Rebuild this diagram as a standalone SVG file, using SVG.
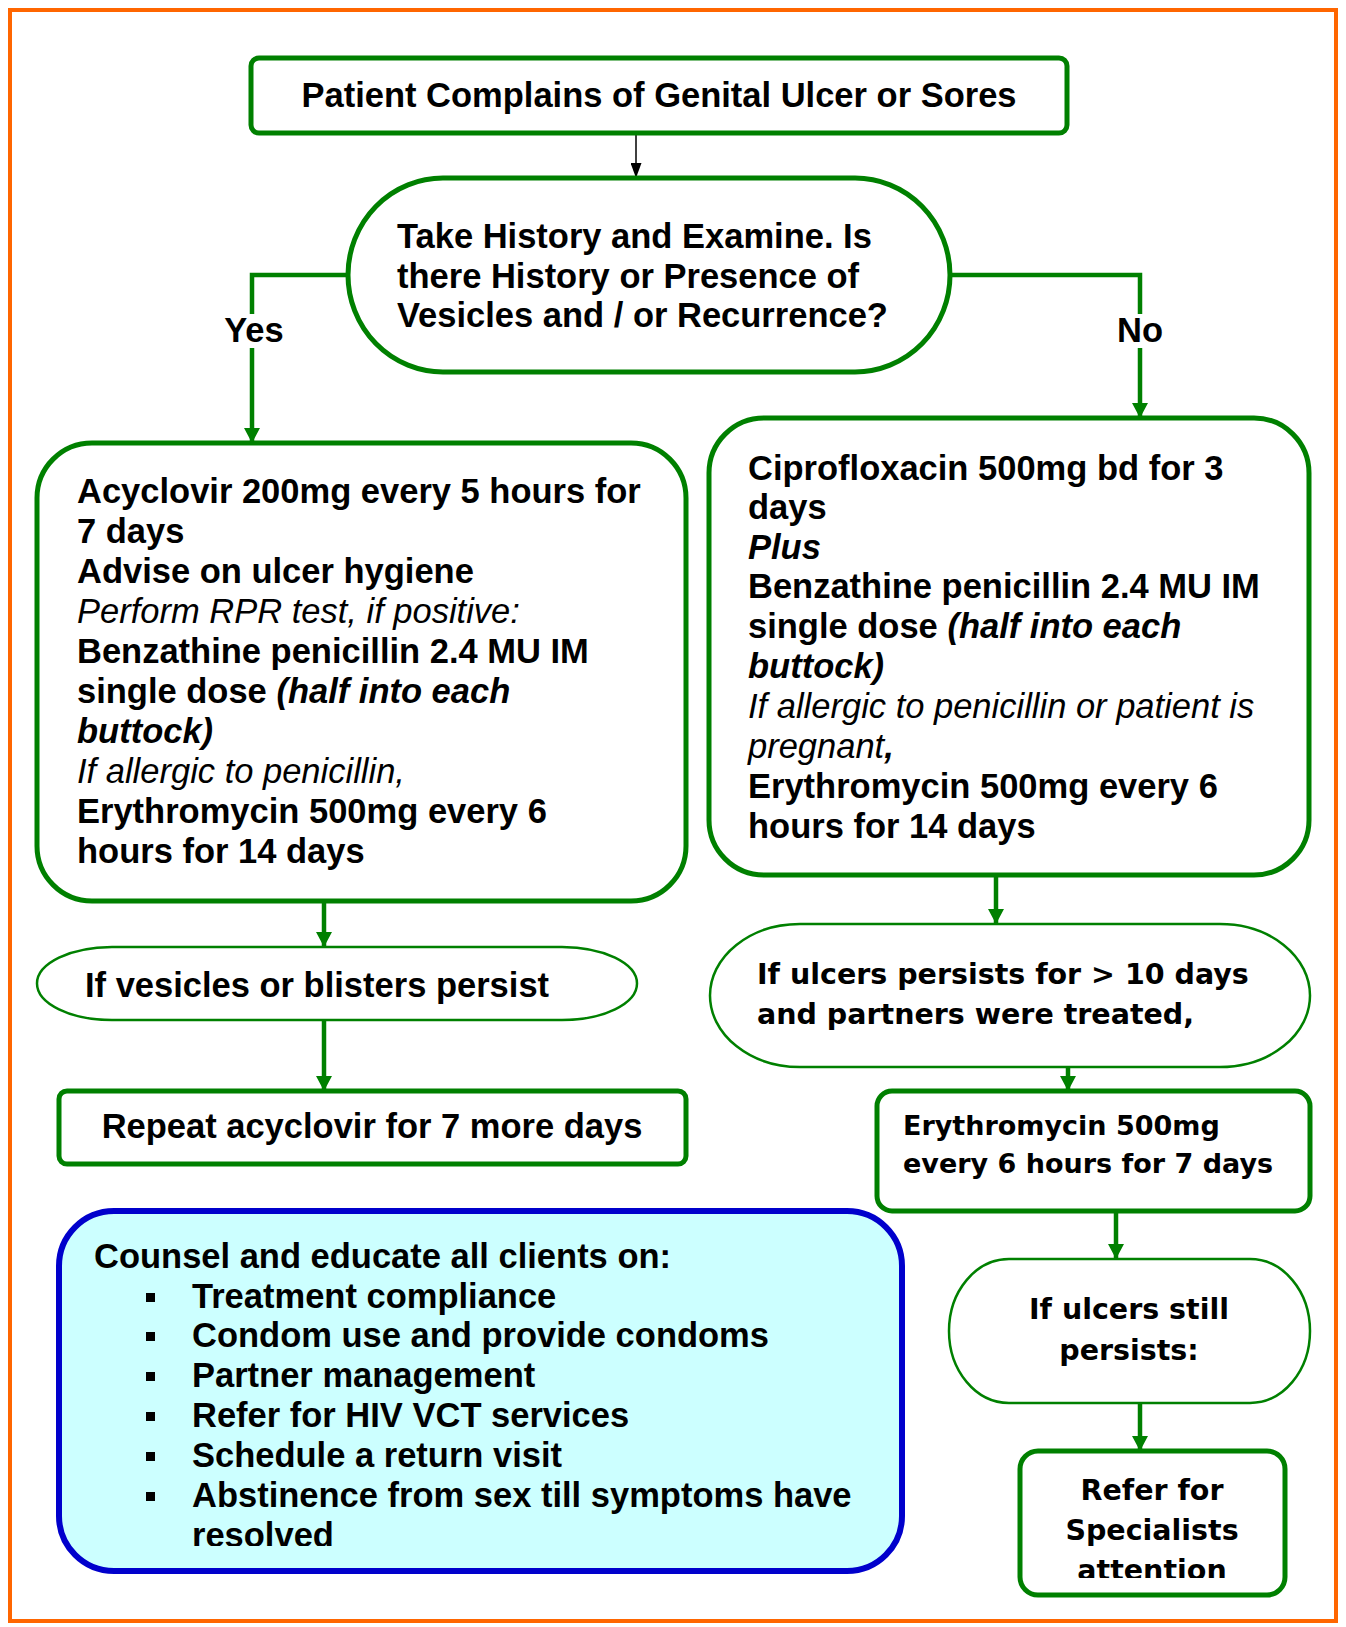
<svg xmlns="http://www.w3.org/2000/svg" width="1346" height="1627" viewBox="0 0 1346 1627">
<defs>
<style>
.n{fill:#fff;stroke:#008000;stroke-width:5}
.thin{stroke-width:2.5}
.t{font-family:"Liberation Sans",Arial,sans-serif;font-size:34.5px;font-weight:bold;fill:#000}
.i{font-style:italic}
.r{font-weight:normal}
.v{font-family:"DejaVu Sans",Verdana,sans-serif;font-weight:bold;font-size:28.5px;fill:#000}
.m{text-anchor:middle}
.c{fill:none;stroke:#008000;stroke-width:4.5}
</style>
<marker id="ga" markerUnits="userSpaceOnUse" markerWidth="16" markerHeight="16" refX="15" refY="8" orient="auto">
<path d="M0,0 L15,8 L0,16 z" fill="#008000"/>
</marker>
<marker id="ba" markerUnits="userSpaceOnUse" markerWidth="15" markerHeight="11" refX="15" refY="5.5" orient="auto">
<path d="M0,0 L15,5.5 L0,11 z" fill="#000"/>
</marker>
<clipPath id="clipRes"><rect x="60" y="1200" width="840" height="346"/></clipPath>
<clipPath id="clipRef"><rect x="1020" y="1450" width="266" height="128"/></clipPath>
</defs>

<rect x="10" y="10" width="1326" height="1611" fill="#fff" stroke="#FF6600" stroke-width="4"/>

<g id="connectors">
<line x1="636" y1="133" x2="636" y2="178" stroke="#000" stroke-width="1.5" marker-end="url(#ba)"/>
<path class="c" d="M348,275 H252 V443" marker-end="url(#ga)"/>
<path class="c" d="M950,275 H1140 V418" marker-end="url(#ga)"/>
<line class="c" x1="324" y1="901" x2="324" y2="947" marker-end="url(#ga)"/>
<line class="c" x1="324" y1="1020" x2="324" y2="1091" marker-end="url(#ga)"/>
<line class="c" x1="996" y1="875" x2="996" y2="924" marker-end="url(#ga)"/>
<line class="c" x1="1068" y1="1067" x2="1068" y2="1091" marker-end="url(#ga)"/>
<line class="c" x1="1116" y1="1211" x2="1116" y2="1259" marker-end="url(#ga)"/>
<line class="c" x1="1140" y1="1403" x2="1140" y2="1451" marker-end="url(#ga)"/>
<rect x="225" y="314" width="60" height="34" fill="#fff"/>
<text class="t m" x="254" y="342">Yes</text>
<rect x="1116" y="314" width="48" height="34" fill="#fff"/>
<text class="t m" x="1140" y="342">No</text>
</g>

<g id="n-start">
<rect class="n" x="251" y="58" width="816" height="75" rx="8"/>
<text class="t m" x="659" y="107">Patient Complains of Genital Ulcer or Sores</text>
</g>

<g id="n-decision">
<rect class="n" x="348" y="178" width="602" height="194" rx="95" ry="97"/>
<text class="t" x="397" y="248">Take History and Examine. Is</text>
<text class="t" x="397" y="288">there History or Presence of</text>
<text class="t" x="397" y="327">Vesicles and / or Recurrence?</text>
</g>

<g id="n-yes">
<rect class="n" x="37" y="443" width="649" height="458" rx="55"/>
<text class="t" x="77" y="503">Acyclovir 200mg every 5 hours for</text>
<text class="t" x="77" y="543">7 days</text>
<text class="t" x="77" y="583">Advise on ulcer hygiene</text>
<text class="t i r" x="77" y="623">Perform RPR test, if positive:</text>
<text class="t" x="77" y="663">Benzathine penicillin 2.4 MU IM</text>
<text class="t" x="77" y="703">single dose <tspan class="i">(half into each</tspan></text>
<text class="t i" x="77" y="743">buttock)</text>
<text class="t i r" x="77" y="783">If allergic to penicillin,</text>
<text class="t" x="77" y="823">Erythromycin 500mg every 6</text>
<text class="t" x="77" y="863">hours for 14 days</text>
</g>

<g id="n-no">
<rect class="n" x="709" y="418" width="600" height="457" rx="55"/>
<text class="t" x="748" y="480">Ciprofloxacin 500mg bd for 3</text>
<text class="t" x="748" y="519">days</text>
<text class="t i" x="748" y="559">Plus</text>
<text class="t" x="748" y="598">Benzathine penicillin 2.4 MU IM</text>
<text class="t" x="748" y="638">single dose <tspan class="i">(half into each</tspan></text>
<text class="t i" x="748" y="678">buttock)</text>
<text class="t i r" x="748" y="718">If allergic to penicillin or patient is</text>
<text class="t i" x="748" y="758"><tspan class="r">pregnant</tspan>,</text>
<text class="t" x="748" y="798">Erythromycin 500mg every 6</text>
<text class="t" x="748" y="838">hours for 14 days</text>
</g>

<g id="n-vesicles">
<rect class="n thin" x="37" y="947" width="600" height="73" rx="75" ry="36.5"/>
<text class="t" x="85" y="997">If vesicles or blisters persist</text>
</g>

<g id="n-repeat">
<rect class="n" x="59" y="1091" width="627" height="73" rx="8"/>
<text class="t m" x="372" y="1138">Repeat acyclovir for 7 more days</text>
</g>

<g id="n-persist10">
<rect class="n thin" x="710" y="924" width="600" height="143" rx="90" ry="71.5"/>
<text class="v" x="757" y="984">If ulcers persists for &gt; 10 days</text>
<text class="v" x="757" y="1024">and partners were treated,</text>
</g>

<g id="n-erythro">
<rect class="n" x="877" y="1091" width="433" height="120" rx="15"/>
<text class="v" x="903" y="1135" style="font-size:27px">Erythromycin 500mg</text>
<text class="v" x="903" y="1173" style="font-size:27px">every 6 hours for 7 days</text>
</g>

<g id="n-still">
<rect class="n thin" x="949" y="1259" width="361" height="144" rx="60" ry="72"/>
<text class="v m" x="1129" y="1319">If ulcers still</text>
<text class="v m" x="1129" y="1360">persists:</text>
</g>

<g id="n-refer">
<rect class="n" x="1020" y="1451" width="265" height="144" rx="18"/>
<g clip-path="url(#clipRef)">
<text class="v m" x="1152" y="1500">Refer for</text>
<text class="v m" x="1152" y="1540">Specialists</text>
<text class="v m" x="1152" y="1580">attention</text>
</g>
</g>

<g id="n-counsel">
<rect x="59" y="1211" width="843" height="360" rx="55" fill="#CCFFFF" stroke="#0000CC" stroke-width="6"/>
<g clip-path="url(#clipRes)">
<text class="t" x="94" y="1268">Counsel and educate all clients on:</text>
<rect x="146" y="1293" width="9" height="9"/>
<text class="t" x="192" y="1308">Treatment compliance</text>
<rect x="146" y="1332" width="9" height="9"/>
<text class="t" x="192" y="1347">Condom use and provide condoms</text>
<rect x="146" y="1372" width="9" height="9"/>
<text class="t" x="192" y="1387">Partner management</text>
<rect x="146" y="1412" width="9" height="9"/>
<text class="t" x="192" y="1427">Refer for HIV VCT services</text>
<rect x="146" y="1452" width="9" height="9"/>
<text class="t" x="192" y="1467">Schedule a return visit</text>
<rect x="146" y="1492" width="9" height="9"/>
<text class="t" x="192" y="1507">Abstinence from sex till symptoms have</text>
<text class="t" x="192" y="1547">resolved</text>
</g>
</g>
</svg>
